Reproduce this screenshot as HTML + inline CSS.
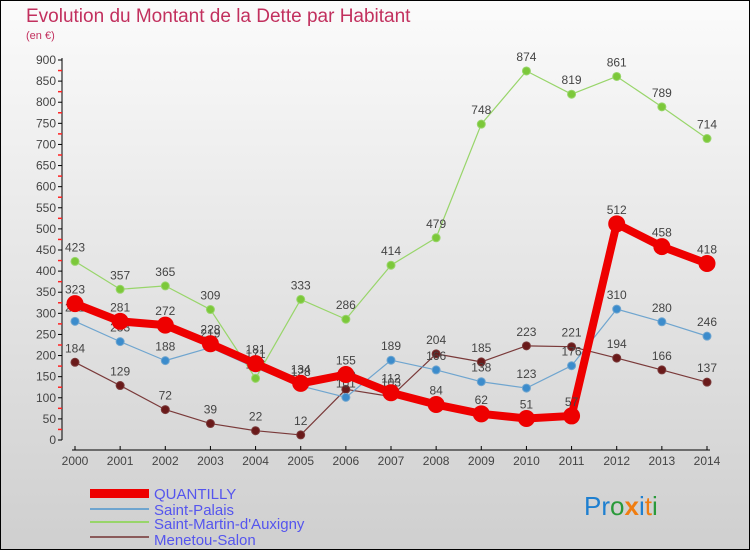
<!DOCTYPE html>
<html><head><meta charset="utf-8"><style>
body{margin:0}
#c{width:750px;height:550px;position:relative;overflow:hidden;font-family:"Liberation Sans",sans-serif}
</style></head><body>
<div id="c">
<svg id="s" width="750" height="550" xmlns="http://www.w3.org/2000/svg">
<defs><linearGradient id="bg" x1="0" y1="0" x2="0" y2="1"><stop offset="0" stop-color="#fbfbfb"/><stop offset="1" stop-color="#cfcfcf"/></linearGradient></defs>
<rect x="0.5" y="0.5" width="749" height="549" fill="url(#bg)" stroke="#000"/>
<text x="26" y="22" font-size="19" fill="#c2305e">Evolution du Montant de la Dette par Habitant</text>
<text x="26" y="39" font-size="11" fill="#c2305e">(en €)</text>
<g id="axes"></g><g id="series"></g>
<g>
<rect x="90" y="489" width="59" height="9" fill="#e00"/>
<text x="154" y="499" font-size="15" fill="#5555ee">QUANTILLY</text>
<line x1="90" y1="509" x2="149" y2="509" stroke="#6fa5cf" stroke-width="2"/>
<text x="154" y="515" font-size="15" fill="#5555ee">Saint-Palais</text>
<line x1="90" y1="522" x2="149" y2="522" stroke="#98d56a" stroke-width="2"/>
<text x="154" y="529" font-size="15" fill="#5555ee">Saint-Martin-d'Auxigny</text>
<line x1="90" y1="537" x2="149" y2="537" stroke="#8a5a5a" stroke-width="2"/>
<text x="154" y="545" font-size="15" fill="#5555ee">Menetou-Salon</text>
</g>
<text x="584" y="515" font-size="26"><tspan fill="#1e7fd0">Pr</tspan><tspan fill="#2a9a3a">o</tspan><tspan fill="#f07d10" font-weight="bold">x</tspan><tspan fill="#1e7fd0">i</tspan><tspan fill="#f07d10">t</tspan><tspan fill="#2a9a3a">i</tspan></text>
</svg>
</div>
<script>
const years=[2000,2001,2002,2003,2004,2005,2006,2007,2008,2009,2010,2011,2012,2013,2014];
const quantilly=[323,281,272,228,181,134,155,112,84,62,51,57,512,458,418];
const saintPalais=[281,233,188,219,171,128,101,189,166,138,123,176,310,280,246];
const saintMartin=[423,357,365,309,146,333,286,414,479,748,874,819,861,789,714];
const menetou=[184,129,72,39,22,12,120,103,204,185,223,221,194,166,137];
const yTicks=[0,50,100,150,200,250,300,350,400,450,500,550,600,650,700,750,800,850,900];
const NS="http://www.w3.org/2000/svg";
const X=i=>75+i*(707-75)/(years.length-1);
const Y=v=>440-v*(380/900);
function mk(t,a,p){const e=document.createElementNS(NS,t);for(const k in a)e.setAttribute(k,a[k]);p.appendChild(e);return e;}
const ax=document.getElementById('axes'),sr=document.getElementById('series');
mk('line',{x1:62,y1:58,x2:62,y2:440,stroke:'#000'},ax);
mk('line',{x1:72,y1:450,x2:710,y2:450,stroke:'#000'},ax);
yTicks.forEach(v=>{
 mk('line',{x1:58,y1:Y(v),x2:62,y2:Y(v),stroke:'#000'},ax);
 if(v<900){mk('line',{x1:58,y1:Y(v+25),x2:62,y2:Y(v+25),stroke:'#f22','stroke-width':1.5},ax);}
 const t=mk('text',{x:56,y:Y(v)+4,'font-size':12,fill:'#444','text-anchor':'end'},ax);t.textContent=v;
 
 
});
years.forEach((y,i)=>{
 mk('line',{x1:X(i),y1:446,x2:X(i),y2:450,stroke:'#000'},ax);
 const t=mk('text',{x:X(i),y:465,'font-size':12,fill:'#444','text-anchor':'middle'},ax);t.textContent=y;
 
 
});
function series(vals,color,dot,w,r,name){
 const g=mk('g',{},sr);
 
 
 mk('polyline',{points:vals.map((v,i)=>X(i)+','+Y(v)).join(' '),fill:'none',stroke:color,'stroke-width':w,'stroke-linejoin':'round'},g);
 vals.forEach((v,i)=>{
  const c=mk('circle',{cx:X(i),cy:Y(v),r:r,fill:dot,stroke:color,'stroke-width':1},g);
  
  
  const t=mk('text',{x:X(i),y:Y(v)-10,'font-size':12,fill:'#444','text-anchor':'middle'},g);t.textContent=v;
  
  
 });
}
series(menetou,'#7a3a3a','#6a1a1a',1.2,4,'series-menetou-salon');
series(saintMartin,'#98d56a','#7cc83a',1.2,4,'series-saint-martin');
series(saintPalais,'#6fa5cf','#3c8ccc',1.2,4,'series-saint-palais');
series(quantilly,'#ee0000','#ee0000',8,8,'series-quantilly');
</script>
</body></html>
